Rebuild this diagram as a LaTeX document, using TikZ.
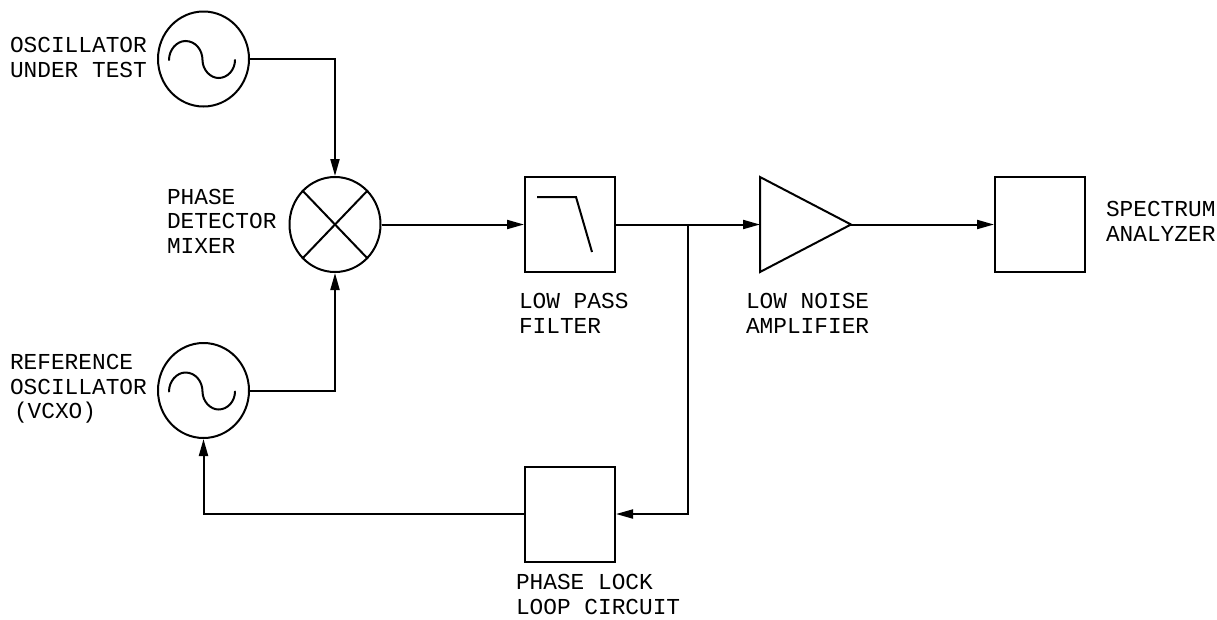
\documentclass[tikz,border=0pt]{standalone}
\usepackage{fontspec}
\setmainfont{Liberation Mono}
\usetikzlibrary{arrows.meta,shapes.geometric}
\tikzset{
  wire/.style={line width=2pt,line join=miter},
  arrowwire/.style={wire,-{Stealth[inset=0pt,length=17pt,width=9pt]}},
  roundel/.style={ellipse,draw,line width=2pt,inner sep=0pt,minimum width=91pt,minimum height=95pt},
  blockbox/.style={rectangle,draw,line width=2pt,inner sep=0pt,minimum width=90pt,minimum height=95pt},
  lbl/.style={inner sep=0pt,outer sep=0pt,align=left,anchor=base west,font=\fontsize{22.8}{24.5}\selectfont},
  sinewave/.pic={\draw[wire,line cap=round] (-34.5,1) .. controls (-34.5,-9) and (-27,-18) .. (-18,-18)
     .. controls (-8,-18) and (-1,-9) .. (-1,1) .. controls (-1,11) and (7,19) .. (15,19)
     .. controls (24,19) and (31.5,11) .. (31.5,1);}
}
\begin{document}
\begin{tikzpicture}[x=1pt,y=-1pt]
\useasboundingbox (0,0) rectangle (1217,619);
\node[roundel] (osc1) at (203.5,59) {};
\pic at (osc1.center) {sinewave};
\node[roundel] (osc2) at (203.5,390.5) {};
\pic at (osc2.center) {sinewave};
\node[roundel] (mix) at (335,224.5) {};
\draw[wire] (mix.north west) -- (mix.south east);
\draw[wire] (mix.north east) -- (mix.south west);
\node[blockbox] (lpf) at (570,224.5) {};
\draw[wire] (537,197) -- (576,197) -- (592,252);
\node[blockbox] (pll) at (570,514) {};
\node[blockbox] (sa) at (1040,224.5) {};
\coordinate (ampin) at (760,224.5);
\coordinate (ampout) at (851,224.5);
\draw[wire,line join=miter] (760,177) -- (ampout) -- (760,272) -- cycle;
\coordinate (tap) at (688,224.5);
\draw[arrowwire] (osc1.east) -| (mix.north);
\draw[arrowwire] (osc2.east) -| (mix.south);
\draw[arrowwire] (mix.east) -- (lpf.west);
\draw[arrowwire] (lpf.east) -- (ampin);
\draw[arrowwire] (ampout) -- (sa.west);
\draw[arrowwire] (tap) |- (pll.east);
\draw[arrowwire] (pll.west) -| (osc2.south);
\node[lbl] (t1) at (10,77) {OSCILLATOR\\UNDER TEST};
\node[lbl] (t2) at (167,253) {PHASE\\DETECTOR\\MIXER};
\node[lbl] (t3) at (10,418.5) {REFERENCE\\OSCILLATOR\\\hspace*{4pt}(VCXO)};
\node[lbl] (t4) at (519,333) {LOW PASS\\FILTER};
\node[lbl] (t5) at (746,333) {LOW NOISE\\AMPLIFIER};
\node[lbl] (t6) at (1106,241) {SPECTRUM\\ANALYZER};
\node[lbl] (t7) at (516,614) {PHASE LOCK\\LOOP CIRCUIT};
\end{tikzpicture}
\end{document}
